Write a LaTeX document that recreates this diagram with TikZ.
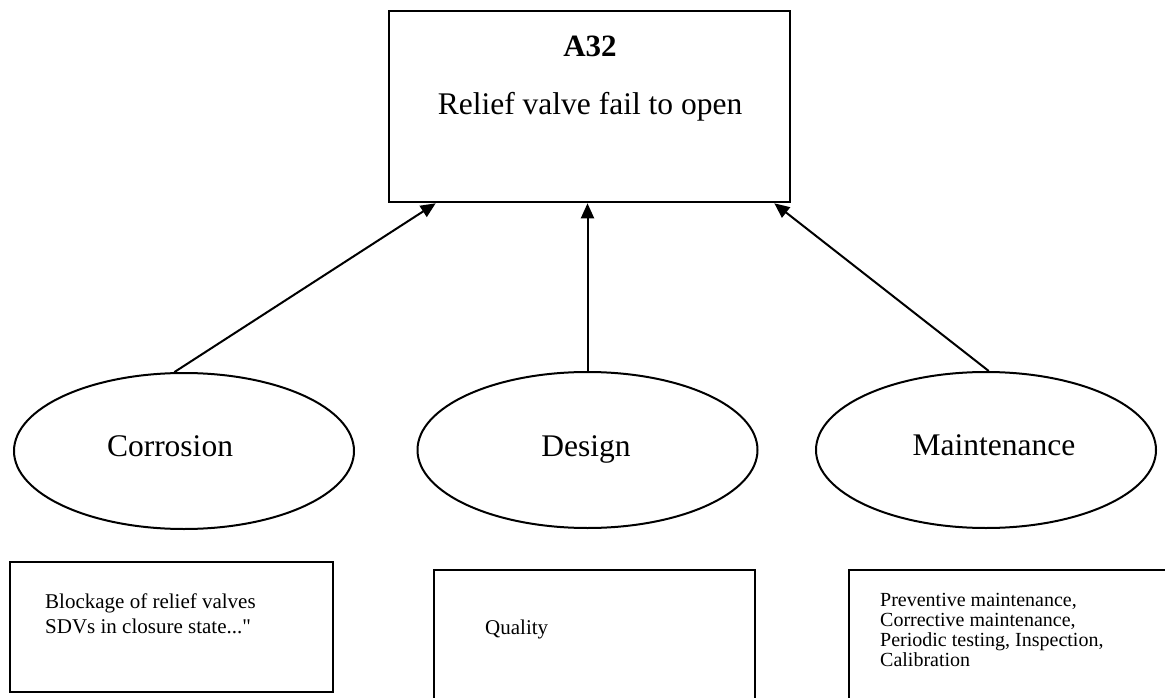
\documentclass[tikz,border=0pt]{standalone}
\usepackage{fontspec}
\setmainfont{Liberation Serif}
\usetikzlibrary{shapes.geometric,arrows.meta,calc}

\tikzset{
  framebox/.style={draw, rectangle, line width=2.6pt, inner sep=0pt, fill=white},
  cause/.style={draw, ellipse, line width=2pt, inner sep=0pt,
                minimum width=340pt, minimum height=156pt},
  causetext/.style={inner sep=0pt, font=\fontsize{31.5}{36}\selectfont},
  notetext/.style={inner sep=0pt, align=left, anchor=north west},
  link/.style={line width=2pt, -{Triangle[length=15pt,width=13pt]}},
}

\begin{document}
\begin{tikzpicture}[x={(1pt,0pt)}, y={(0pt,-1pt)}]
  \fill[white] (0,0) rectangle (1165,698);
  \path[use as bounding box] (0,0) rectangle (1165,698);
  \clip (0,0) rectangle (1165,698);

  % top event
  \node[framebox, minimum width=401pt, minimum height=191pt] (top) at (589.5,106.5) {};
  \node[inner sep=0pt, anchor=base, font=\fontsize{31}{36}\selectfont\bfseries] (topid) at (590,57) {A32};
  \node[inner sep=0pt, anchor=base, font=\fontsize{31.5}{36}\selectfont] (toptitle) at (590,115) {Relief valve fail to open};

  % causes
  \node[cause] (corr) at (184,451) {};
  \node[cause] (des) at (587.5,450) {};
  \node[cause] (maint) at (986,450) {};
  \node[causetext, anchor=base] (corrtxt) at (170,456.5) {Corrosion};
  \node[causetext, anchor=base] (destxt) at (586,456) {Design};
  \node[causetext, anchor=base] (mainttxt) at (994,455) {Maintenance};

  % cause descriptions
  \node[framebox, minimum width=323pt, minimum height=130pt] (corrnote) at (171.5,627) {};
  \node[framebox, minimum width=321pt, minimum height=150pt] (desnote) at (594.5,645) {};
  \node[framebox, minimum width=340pt, minimum height=150pt] (maintnote) at (1019,645) {};

  \node[notetext, font=\fontsize{21}{25}\selectfont] (corrlist) at (45,593.5)
    {Blockage of relief valves\\SDVs in closure state...\textquotedbl};
  \node[inner sep=0pt, anchor=base west, font=\fontsize{21}{25}\selectfont] (deslist) at (485,634) {Quality};
  \node[notetext, font=\fontsize{20}{20}\selectfont] (maintlist) at (880,593)
    {Preventive maintenance,\\Corrective maintenance,\\Periodic testing, Inspection,\\Calibration};

  % connectors
  \draw[link] (corr.97) -- ($(top.south west)+(48,0)$);
  \draw[link] (des.north) -- (des.north |- top.south);
  \draw[link] (maint.88) -- ($(top.south east)+(-17,0)$);
\end{tikzpicture}
\end{document}
